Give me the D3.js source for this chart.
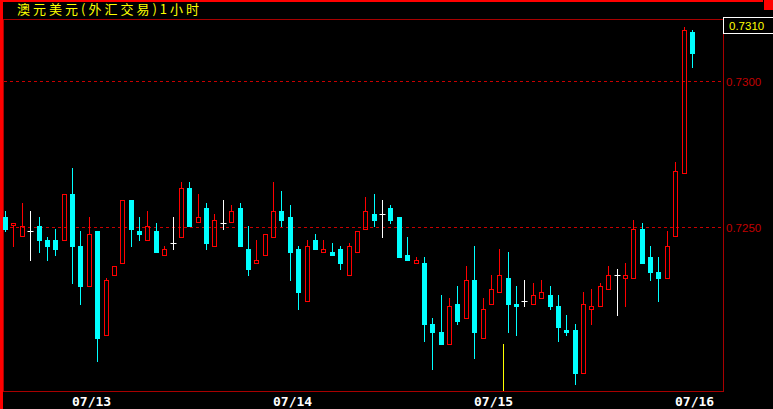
<!DOCTYPE html>
<html><head><meta charset="utf-8">
<script src="https://cdn.jsdelivr.net/npm/d3@7"></script>
<style>html,body{margin:0;padding:0;background:#000;overflow:hidden}</style>
</head><body>
<svg id="c" width="773" height="409"></svg>
<script>
const title = "澳元美元(外汇交易)1小时";
const opens = [.72533,.72501,.72464,.72484,.72502,.72454,.72454,.72452,.72612,.72434,
.72295,.72485,.72127,.72332,.72373,.72591,.72485,.72452,.72485,.72401,
.72444,.72462,.72633,.72512,.72564,.72431,.72513,.72512,.72564,.72424,
.72373,.72401,.72462,.72554,.72533,.72424,.72243,.72454,.72411,.72413,
.72424,.72332,.72411,.72490,.72543,.72543,.72564,.72533,.72403,.72373,
.72376,.72167,.72139,.72096,.72235,.72185,.72317,.72116,.72233,.72274,
.72324,.72235,.72246,.72233,.72253,.72266,.72228,.72146,.72146,.71997,
.72216,.72226,.72284,.72335,.72322,.72322,.72492,.72396,.72345,.72322,
.72464,.72679,.73166];
const highs = [.72554,.72512,.72582,.72554,.72533,.72465,.72492,.72612,.72701,.72485,
.72533,.72485,.72324,.72365,.72591,.72591,.72533,.72554,.72513,.72434,
.72533,.72653,.72653,.72612,.72581,.72543,.72591,.72574,.72581,.72502,
.72454,.72474,.72653,.72622,.72574,.72434,.72454,.72475,.72454,.72444,
.72434,.72444,.72485,.72602,.72612,.72591,.72574,.72533,.72465,.72396,
.72396,.72187,.72266,.72256,.72297,.72365,.72434,.72256,.72335,.72424,
.72413,.72297,.72317,.72307,.72317,.72297,.72266,.72198,.72167,.72276,
.72287,.72307,.72365,.72355,.72376,.72523,.72513,.72434,.72396,.72485,
.72720,.73184,.73173];
const lows = [.72483,.72431,.72464,.72384,.72411,.72384,.72401,.72452,.72305,.72233,
.72295,.72038,.72127,.72332,.72373,.72431,.72451,.72452,.72411,.72401,
.72420,.72462,.72499,.72512,.72420,.72431,.72489,.72512,.72430,.72331,
.72373,.72401,.72462,.72500,.72315,.72216,.72243,.72420,.72411,.72401,
.72352,.72332,.72411,.72490,.72500,.72462,.72510,.72394,.72384,.72373,
.72106,.72009,.72096,.72096,.72164,.72185,.72048,.72116,.72233,.72274,
.72137,.72127,.72226,.72233,.72253,.72216,.72106,.72127,.71959,.71997,
.72164,.72226,.72284,.72195,.72226,.72322,.72373,.72315,.72243,.72322,
.72464,.72679,.73045];
const closes = [.72490,.72512,.72501,.72484,.72452,.72431,.72421,.72612,.72431,.72295,
.72475,.72116,.72317,.72365,.72591,.72489,.72472,.72502,.72411,.72424,
.72444,.72633,.72499,.72533,.72441,.72523,.72513,.72554,.72430,.72352,
.72386,.72474,.72554,.72520,.72411,.72274,.72434,.72420,.72424,.72401,
.72373,.72434,.72485,.72554,.72520,.72543,.72520,.72394,.72384,.72386,
.72164,.72137,.72096,.72228,.72175,.72317,.72137,.72218,.72287,.72335,
.72232,.72225,.72246,.72266,.72276,.72225,.72154,.72137,.71997,.72235,
.72228,.72297,.72335,.72335,.72335,.72492,.72373,.72343,.72322,.72433,
.72690,.73173,.73092];
const priceTicks = [0.7300, 0.7250];
const priceTickLabels = ["0.7300", "0.7250"];
const topPriceLabel = "0.7310";
const dayLabels = ["07/13", "07/14", "07/15", "07/16"];
const dayStartIndex = [8, 32, 56, 80];
const cursorIndex = 59.5;
const cursorPrice = 0.72098;

const W = 773, H = 409;
const plot = {left: 3.5, top: 19.5, right: 723.5, bottom: 391};
const UP = "#ff0000", DOWN = "#00ffff", DOJI = "#ffffff";
const FRAME = "#a80000", GRID = "#c80000", LABEL = "#c00000";

const svg = d3.select("#c");
svg.append("rect").attr("width", W).attr("height", H).attr("fill", "#000");

const data = opens.map((o, i) => ({i, o, h: highs[i], l: lows[i], c: closes[i]}));
const x = d3.scaleLinear().domain([0, data.length - 1]).range([5, 692]);
const y = d3.scaleLinear().domain([0.7250, 0.7300]).range([226.7, 80.7]);
const px = i => Math.round(x(i)) + 0.5;
const py = v => Math.round(y(v));

// frame
svg.append("rect").attr("x", plot.left).attr("y", plot.top)
  .attr("width", plot.right - plot.left).attr("height", plot.bottom - plot.top + 0.5)
  .attr("fill", "none").attr("stroke", FRAME);

// grid lines
svg.append("g").selectAll("line").data(priceTicks).join("line")
  .attr("x1", 4).attr("x2", plot.right)
  .attr("y1", d => py(d) + 0.5).attr("y2", d => py(d) + 0.5)
  .attr("stroke", GRID).attr("stroke-dasharray", "3,3");

// right axis labels
svg.append("g").selectAll("text").data(priceTicks).join("text")
  .attr("x", 726).attr("y", d => py(d) + 4.5)
  .attr("fill", LABEL).attr("font-family", "Liberation Sans, Arial, sans-serif")
  .attr("font-size", 11.5).text((d, k) => priceTickLabels[k]);

// top price box
svg.append("rect").attr("x", 723.5).attr("y", 17.5).attr("width", 50).attr("height", 16)
  .attr("fill", "#000").attr("stroke", "#ffffff");
svg.append("text").attr("x", 729).attr("y", 29.5).attr("fill", "#ffff00")
  .attr("font-family", "Liberation Sans, Arial, sans-serif").attr("font-size", 11.5)
  .text(topPriceLabel);

// cursor line
svg.append("line").attr("x1", Math.round(x(cursorIndex)) + 0.5).attr("x2", Math.round(x(cursorIndex)) + 0.5)
  .attr("y1", py(cursorPrice)).attr("y2", plot.bottom)
  .attr("stroke", "#ffff00");

// candles
const g = svg.append("g");
data.forEach(d => {
  const cx = px(d.i);
  const yh = py(d.h), yl = py(d.l), yo = py(d.o), yc = py(d.c);
  if (d.o === d.c) {
    g.append("line").attr("x1", cx).attr("x2", cx).attr("y1", yh).attr("y2", yl).attr("stroke", DOJI);
    g.append("line").attr("x1", cx - 3).attr("x2", cx + 3).attr("y1", yo + 0.5).attr("y2", yo + 0.5).attr("stroke", DOJI);
  } else if (d.c > d.o) {
    const top = yc, bot = Math.max(yo, yc + 3);
    if (yh < top) g.append("line").attr("x1", cx).attr("x2", cx).attr("y1", yh).attr("y2", top).attr("stroke", UP);
    if (yl > bot) g.append("line").attr("x1", cx).attr("x2", cx).attr("y1", bot).attr("y2", yl).attr("stroke", UP);
    g.append("rect").attr("x", cx - 2).attr("y", top + 0.5).attr("width", 4).attr("height", bot - top - 1)
      .attr("fill", "none").attr("stroke", UP).attr("stroke-width", 1);
  } else {
    const top = yo, bot = Math.max(yc, yo + 2);
    g.append("line").attr("x1", cx).attr("x2", cx).attr("y1", yh).attr("y2", yl).attr("stroke", DOWN);
    g.append("rect").attr("x", cx - 2.5).attr("y", top).attr("width", 5).attr("height", bot - top)
      .attr("fill", DOWN);
  }
});

// day labels
svg.append("g").selectAll("text").data(dayLabels).join("text")
  .attr("x", (d, k) => Math.round(x(dayStartIndex[k])))
  .attr("y", 406).attr("fill", "#ffffff")
  .attr("font-family", "DejaVu Sans Mono, monospace").attr("font-weight", "bold")
  .attr("font-size", 13).text(d => d);

// outer red edges
svg.append("rect").attr("x", 0).attr("y", 0).attr("width", 3).attr("height", H).attr("fill", "#ff0000");
svg.append("rect").attr("x", 0).attr("y", 0).attr("width", 763).attr("height", 2).attr("fill", "#ff0000");
svg.append("rect").attr("x", 764).attr("y", 0).attr("width", 9).attr("height", 10).attr("fill", "#ff0000");

// title
svg.append("text").attr("x", 17).attr("y", 14).attr("fill", "#ffff00")
  .attr("font-family", "Noto Sans CJK SC, sans-serif").attr("font-size", 13)
  .attr("letter-spacing", 3).text(title);
</script>
</body></html>
